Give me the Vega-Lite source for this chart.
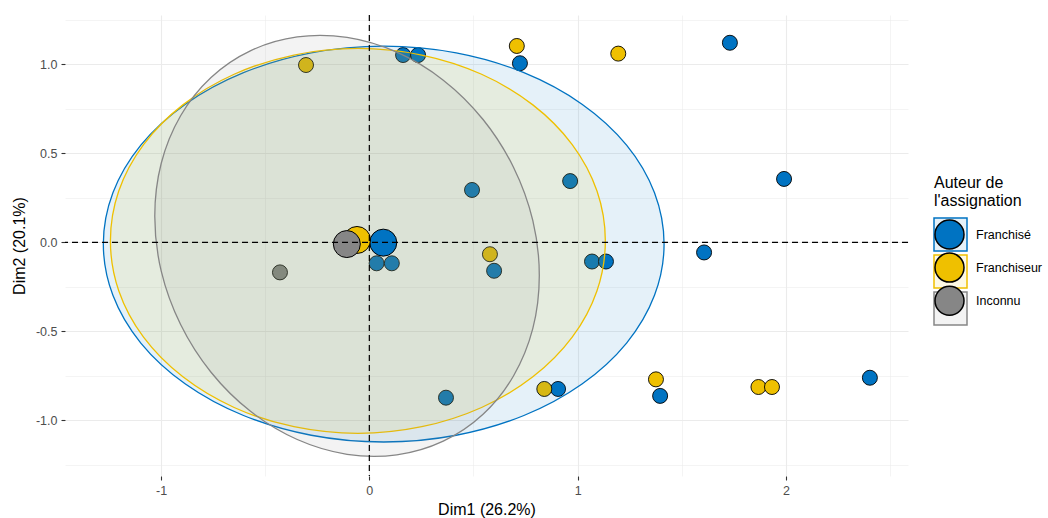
{
  "$schema": "https://vega.github.io/schema/vega-lite/v6.json",
  "width": 843,
  "height": 461,
  "autosize": {"type": "none"},
  "padding": {"left": 65, "top": 15, "right": 140, "bottom": 42},
  "background": "white",
  "config": {
    "font": "Liberation Sans",
    "view": {"stroke": null},
    "axis": {
      "domain": false,
      "grid": true,
      "gridColor": "#EBEBEB",
      "tickColor": "#333333",
      "tickSize": 4,
      "tickWidth": 1.1,
      "labelColor": "#4D4D4D",
      "labelFontSize": 12.5,
      "labelPadding": 4,
      "labelFlush": false,
      "labelOverlap": false,
      "titleFontSize": 16,
      "titleFontWeight": "normal",
      "titleColor": "#000000"
    }
  },
  "datasets": {
    "pts": [
      {"x": 0.162, "y": 1.052, "group": "Franchisé"},
      {"x": 0.234, "y": 1.052, "group": "Franchisé"},
      {"x": 0.723, "y": 1.006, "group": "Franchisé"},
      {"x": 1.731, "y": 1.121, "group": "Franchisé"},
      {"x": 1.991, "y": 0.356, "group": "Franchisé"},
      {"x": 0.493, "y": 0.294, "group": "Franchisé"},
      {"x": 0.964, "y": 0.344, "group": "Franchisé"},
      {"x": 1.607, "y": -0.057, "group": "Franchisé"},
      {"x": 1.069, "y": -0.108, "group": "Franchisé"},
      {"x": 1.136, "y": -0.108, "group": "Franchisé"},
      {"x": 0.035, "y": -0.118, "group": "Franchisé"},
      {"x": 0.108, "y": -0.118, "group": "Franchisé"},
      {"x": 0.599, "y": -0.16, "group": "Franchisé"},
      {"x": 0.368, "y": -0.873, "group": "Franchisé"},
      {"x": 0.906, "y": -0.824, "group": "Franchisé"},
      {"x": 1.396, "y": -0.863, "group": "Franchisé"},
      {"x": 2.403, "y": -0.761, "group": "Franchisé"},
      {"x": -0.304, "y": 0.996, "group": "Franchiseur"},
      {"x": 0.708, "y": 1.103, "group": "Franchiseur"},
      {"x": 1.195, "y": 1.06, "group": "Franchiseur"},
      {"x": 0.579, "y": -0.067, "group": "Franchiseur"},
      {"x": 0.84, "y": -0.824, "group": "Franchiseur"},
      {"x": 1.376, "y": -0.77, "group": "Franchiseur"},
      {"x": 1.868, "y": -0.813, "group": "Franchiseur"},
      {"x": 1.933, "y": -0.813, "group": "Franchiseur"},
      {"x": -0.429, "y": -0.169, "group": "Inconnu"}
    ],
    "cent": [
      {"x": 0.067, "y": -0.002, "group": "Franchisé"},
      {"x": -0.059, "y": 0.013, "group": "Franchiseur"},
      {"x": -0.108, "y": -0.01, "group": "Inconnu"}
    ],
    "ell": [
      {"ell": "a", "i": 0, "x": 1.415, "y": -0.01},
      {"ell": "a", "i": 1, "x": 1.369, "y": 0.278},
      {"ell": "a", "i": 2, "x": 1.235, "y": 0.546},
      {"ell": "a", "i": 3, "x": 1.021, "y": 0.776},
      {"ell": "a", "i": 4, "x": 0.742, "y": 0.953},
      {"ell": "a", "i": 5, "x": 0.417, "y": 1.064},
      {"ell": "a", "i": 6, "x": 0.069, "y": 1.102},
      {"ell": "a", "i": 7, "x": -0.279, "y": 1.064},
      {"ell": "a", "i": 8, "x": -0.604, "y": 0.953},
      {"ell": "a", "i": 9, "x": -0.883, "y": 0.776},
      {"ell": "a", "i": 10, "x": -1.097, "y": 0.546},
      {"ell": "a", "i": 11, "x": -1.231, "y": 0.278},
      {"ell": "a", "i": 12, "x": -1.277, "y": -0.01},
      {"ell": "a", "i": 13, "x": -1.231, "y": -0.298},
      {"ell": "a", "i": 14, "x": -1.097, "y": -0.566},
      {"ell": "a", "i": 15, "x": -0.883, "y": -0.796},
      {"ell": "a", "i": 16, "x": -0.604, "y": -0.973},
      {"ell": "a", "i": 17, "x": -0.279, "y": -1.084},
      {"ell": "a", "i": 18, "x": 0.069, "y": -1.122},
      {"ell": "a", "i": 19, "x": 0.417, "y": -1.084},
      {"ell": "a", "i": 20, "x": 0.742, "y": -0.973},
      {"ell": "a", "i": 21, "x": 1.021, "y": -0.796},
      {"ell": "a", "i": 22, "x": 1.235, "y": -0.566},
      {"ell": "a", "i": 23, "x": 1.369, "y": -0.298},
      {"ell": "b", "i": 0, "x": 1.133, "y": 0.008},
      {"ell": "b", "i": 1, "x": 1.093, "y": 0.288},
      {"ell": "b", "i": 2, "x": 0.974, "y": 0.549},
      {"ell": "b", "i": 3, "x": 0.785, "y": 0.772},
      {"ell": "b", "i": 4, "x": 0.539, "y": 0.944},
      {"ell": "b", "i": 5, "x": 0.252, "y": 1.052},
      {"ell": "b", "i": 6, "x": -0.055, "y": 1.089},
      {"ell": "b", "i": 7, "x": -0.362, "y": 1.052},
      {"ell": "b", "i": 8, "x": -0.649, "y": 0.944},
      {"ell": "b", "i": 9, "x": -0.895, "y": 0.772},
      {"ell": "b", "i": 10, "x": -1.084, "y": 0.549},
      {"ell": "b", "i": 11, "x": -1.203, "y": 0.288},
      {"ell": "b", "i": 12, "x": -1.243, "y": 0.008},
      {"ell": "b", "i": 13, "x": -1.203, "y": -0.272},
      {"ell": "b", "i": 14, "x": -1.084, "y": -0.533},
      {"ell": "b", "i": 15, "x": -0.895, "y": -0.756},
      {"ell": "b", "i": 16, "x": -0.649, "y": -0.928},
      {"ell": "b", "i": 17, "x": -0.362, "y": -1.036},
      {"ell": "b", "i": 18, "x": -0.055, "y": -1.073},
      {"ell": "b", "i": 19, "x": 0.252, "y": -1.036},
      {"ell": "b", "i": 20, "x": 0.539, "y": -0.928},
      {"ell": "b", "i": 21, "x": 0.785, "y": -0.756},
      {"ell": "b", "i": 22, "x": 0.974, "y": -0.533},
      {"ell": "b", "i": 23, "x": 1.093, "y": -0.272},
      {"ell": "c", "i": 0, "x": 0.816, "y": -0.187},
      {"ell": "c", "i": 1, "x": 0.785, "y": 0.122},
      {"ell": "c", "i": 2, "x": 0.692, "y": 0.422},
      {"ell": "c", "i": 3, "x": 0.546, "y": 0.69},
      {"ell": "c", "i": 4, "x": 0.355, "y": 0.911},
      {"ell": "c", "i": 5, "x": 0.132, "y": 1.068},
      {"ell": "c", "i": 6, "x": -0.107, "y": 1.151},
      {"ell": "c", "i": 7, "x": -0.346, "y": 1.154},
      {"ell": "c", "i": 8, "x": -0.569, "y": 1.077},
      {"ell": "c", "i": 9, "x": -0.76, "y": 0.926},
      {"ell": "c", "i": 10, "x": -0.906, "y": 0.711},
      {"ell": "c", "i": 11, "x": -0.999, "y": 0.444},
      {"ell": "c", "i": 12, "x": -1.03, "y": 0.147},
      {"ell": "c", "i": 13, "x": -0.999, "y": -0.162},
      {"ell": "c", "i": 14, "x": -0.906, "y": -0.462},
      {"ell": "c", "i": 15, "x": -0.76, "y": -0.73},
      {"ell": "c", "i": 16, "x": -0.569, "y": -0.951},
      {"ell": "c", "i": 17, "x": -0.346, "y": -1.108},
      {"ell": "c", "i": 18, "x": -0.107, "y": -1.191},
      {"ell": "c", "i": 19, "x": 0.132, "y": -1.194},
      {"ell": "c", "i": 20, "x": 0.355, "y": -1.117},
      {"ell": "c", "i": 21, "x": 0.546, "y": -0.966},
      {"ell": "c", "i": 22, "x": 0.692, "y": -0.751},
      {"ell": "c", "i": 23, "x": 0.785, "y": -0.484}
    ],
    "zero": [{"v": 0}]
  },
  "layer": [
    {
      "data": {"name": "pts"},
      "mark": {"type": "point", "shape": "circle", "filled": true, "size": 225, "stroke": "black", "strokeWidth": 0.9, "opacity": 1},
      "encoding": {
        "x": {
          "field": "x", "type": "quantitative",
          "scale": {"domain": [-1.461, 2.586], "nice": false, "zero": false},
          "axis": {
            "values": [-1, -0.5, 0, 0.5, 1, 1.5, 2, 2.5],
            "labelExpr": "datum.value % 1 === 0 ? '' + datum.value : ''",
            "title": "Dim1 (26.2%)",
            "gridWidth": {"condition": {"test": "datum.value % 1 === 0", "value": 1.1}, "value": 0.55},
            "tickOpacity": {"condition": {"test": "datum.value % 1 === 0", "value": 1}, "value": 0},
            "titlePadding": 5
          }
        },
        "y": {
          "field": "y", "type": "quantitative",
          "scale": {"domain": [-1.313, 1.277], "nice": false, "zero": false},
          "axis": {
            "values": [-1.25, -1, -0.75, -0.5, -0.25, 0, 0.25, 0.5, 0.75, 1, 1.25],
            "labelExpr": "datum.value % 0.5 === 0 ? replace(format(datum.value, '.1f'), '\u2212', '-') : ''",
            "title": "Dim2 (20.1%)",
            "gridWidth": {"condition": {"test": "datum.value % 0.5 === 0", "value": 1.1}, "value": 0.55},
            "tickOpacity": {"condition": {"test": "datum.value % 0.5 === 0", "value": 1}, "value": 0},
            "titlePadding": 8
          }
        },
        "color": {
          "field": "group", "type": "nominal",
          "scale": {"domain": ["Franchisé", "Franchiseur", "Inconnu"], "range": ["#0073C2", "#EFC000", "#868686"]},
          "legend": {
            "orient": "none", "legendX": 869, "legendY": 160,
            "title": ["Auteur de", "l'assignation"],
            "titleFontSize": 16, "titleFontWeight": "normal", "titleColor": "#000000", "titleLineHeight": 18, "titlePadding": 10,
            "symbolType": "circle", "symbolSize": 841,
            "labelFontSize": 12.5, "labelColor": "#000000", "labelOffset": 11,
            "rowPadding": -1.9, "padding": 0, "zindex": 1,
            "encode": {"symbols": {"update": {"stroke": {"value": "black"}, "strokeWidth": {"value": 1}, "opacity": {"value": 1}, "fillOpacity": {"value": 1}}}}
          }
        }
      }
    },
    {
      "data": {"name": "ell"},
      "mark": {"type": "line", "interpolate": "cardinal-closed", "fillOpacity": 0.1, "strokeWidth": 1.3},
      "encoding": {
        "x": {"field": "x", "type": "quantitative", "scale": {"domain": [-1.461, 2.586], "nice": false, "zero": false}},
        "y": {"field": "y", "type": "quantitative", "scale": {"domain": [-1.313, 1.277], "nice": false, "zero": false}},
        "order": {"field": "i", "type": "quantitative"},
        "fill": {
          "field": "ell", "type": "nominal",
          "scale": {"domain": ["a", "b", "c"], "range": ["#0073C2", "#EFC000", "#868686"]},
          "legend": {
            "orient": "none", "legendX": 868, "legendY": 202, "title": null,
            "symbolType": "square", "symbolSize": 1089, "rowPadding": -5.9, "padding": 0,
            "labelExpr": "''", "zindex": 0,
            "encode": {"symbols": {"update": {"fillOpacity": {"value": 0.1}, "strokeWidth": {"value": 1.5}, "opacity": {"value": 1}}}}
          }
        },
        "stroke": {
          "field": "ell", "type": "nominal",
          "scale": {"domain": ["a", "b", "c"], "range": ["#0073C2", "#EFC000", "#868686"]},
          "legend": {
            "orient": "none", "legendX": 868, "legendY": 202, "title": null,
            "symbolType": "square", "symbolSize": 1089, "rowPadding": -5.9, "padding": 0,
            "labelExpr": "''", "zindex": 0,
            "encode": {"symbols": {"update": {"fillOpacity": {"value": 0.1}, "strokeWidth": {"value": 1.5}, "opacity": {"value": 1}}}}
          }
        }
      }
    },
    {
      "data": {"name": "cent"},
      "mark": {"type": "point", "shape": "circle", "filled": true, "size": 729, "stroke": "black", "strokeWidth": 1, "opacity": 1},
      "encoding": {
        "x": {"field": "x", "type": "quantitative", "scale": {"domain": [-1.461, 2.586], "nice": false, "zero": false}},
        "y": {"field": "y", "type": "quantitative", "scale": {"domain": [-1.313, 1.277], "nice": false, "zero": false}},
        "color": {
          "field": "group", "type": "nominal",
          "scale": {"domain": ["Franchisé", "Franchiseur", "Inconnu"], "range": ["#0073C2", "#EFC000", "#868686"]},
          "legend": {
            "orient": "none", "legendX": 869, "legendY": 160,
            "title": ["Auteur de", "l'assignation"],
            "titleFontSize": 16, "titleFontWeight": "normal", "titleColor": "#000000", "titleLineHeight": 18, "titlePadding": 10,
            "symbolType": "circle", "symbolSize": 841,
            "labelFontSize": 12.5, "labelColor": "#000000", "labelOffset": 11,
            "rowPadding": -1.9, "padding": 0, "zindex": 1,
            "encode": {"symbols": {"update": {"stroke": {"value": "black"}, "strokeWidth": {"value": 1}, "opacity": {"value": 1}, "fillOpacity": {"value": 1}}}}
          }
        }
      }
    },
    {
      "data": {"name": "zero"},
      "mark": {"type": "rule", "color": "black", "strokeWidth": 1.2, "strokeDash": [6, 4]},
      "encoding": {
        "x": {"field": "v", "type": "quantitative", "scale": {"domain": [-1.461, 2.586], "nice": false, "zero": false}}
      }
    },
    {
      "data": {"name": "zero"},
      "mark": {"type": "rule", "color": "black", "strokeWidth": 1.2, "strokeDash": [6, 4]},
      "encoding": {
        "y": {"field": "v", "type": "quantitative", "scale": {"domain": [-1.313, 1.277], "nice": false, "zero": false}}
      }
    }
  ]
}
